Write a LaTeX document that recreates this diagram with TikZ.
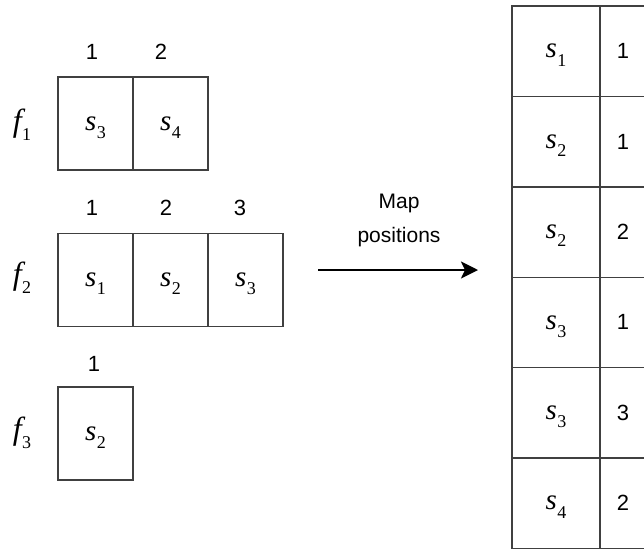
\documentclass[tikz,border=0pt]{standalone}
\usepackage{fontspec}
\usetikzlibrary{arrows.meta}
\newfontfamily\hv{Liberation Sans}
\newfontfamily\tms{Liberation Serif}
\newcommand\mv[2]{{\tms\itshape #1}\kern0.5pt\raisebox{-0.28em}[0pt][0pt]{\tms\fontsize{18}{18}\selectfont #2}}
\begin{document}
\begin{tikzpicture}[x=1pt,y=-1pt,
  cell/.style={draw=black!75,line width=1.4pt,minimum width=75pt,minimum height=93pt,inner sep=0pt,anchor=center,font=\fontsize{29}{29}\selectfont},
  lcell/.style={draw=black!75,line width=1.4pt,minimum width=88pt,minimum height=90.4pt,inner sep=0pt,font=\fontsize{29}{29}\selectfont},
  rcell/.style={draw=black!75,line width=1.4pt,minimum width=46pt,minimum height=90.4pt,inner sep=0pt,font=\hv\fontsize{22}{22}\selectfont},
  idx/.style={font=\hv\fontsize{22}{22}\selectfont,inner sep=0pt},
  flab/.style={font=\fontsize{32}{32}\selectfont,inner sep=0pt}]
\useasboundingbox (0,0) rectangle (644,549);
\clip (0,0) rectangle (644,549);
% f1
\node[flab] (f1) at (22,124) {\mv{f}{1}};
\node[cell] (c11) at (95.5,123.5) {\mv{s}{3}};
\node[cell] (c12) at (170.5,123.5) {\mv{s}{4}};
\node[idx] (i11) at (92,52) {1};
\node[idx] (i12) at (161,52) {2};
% f2
\node[flab] (f2) at (22,277) {\mv{f}{2}};
\node[cell] (c21) at (95.5,280) {\mv{s}{1}};
\node[cell] (c22) at (170.5,280) {\mv{s}{2}};
\node[cell] (c23) at (245.5,280) {\mv{s}{3}};
\node[idx] (i21) at (92,208) {1};
\node[idx] (i22) at (166,208) {2};
\node[idx] (i23) at (240,208) {3};
% f3
\node[flab] (f3) at (22,432) {\mv{f}{3}};
\node[cell] (c31) at (95.5,433.5) {\mv{s}{2}};
\node[idx] (i31) at (94,364) {1};
% arrow
\node[font=\hv\fontsize{21}{34}\selectfont,align=center,inner sep=0pt] (lab) at (399,220) {Map\\positions};
\coordinate (a1) at (318,270);
\coordinate (a2) at (478,270);
\draw[line width=2.4pt,-{Stealth[length=17pt,width=17pt,inset=4pt]}] (a1) -- (a2);
% table
\node[lcell] (t1) at (556,51.2) {\mv{s}{1}};
\node[rcell] (u1) at (623,51.2) {1};
\node[lcell] (t2) at (556,141.6) {\mv{s}{2}};
\node[rcell] (u2) at (623,141.6) {1};
\node[lcell] (t3) at (556,232) {\mv{s}{2}};
\node[rcell] (u3) at (623,232) {2};
\node[lcell] (t4) at (556,322.4) {\mv{s}{3}};
\node[rcell] (u4) at (623,322.4) {1};
\node[lcell] (t5) at (556,412.8) {\mv{s}{3}};
\node[rcell] (u5) at (623,412.8) {3};
\node[lcell] (t6) at (556,503.2) {\mv{s}{4}};
\node[rcell] (u6) at (623,503.2) {2};
\end{tikzpicture}
\end{document}
